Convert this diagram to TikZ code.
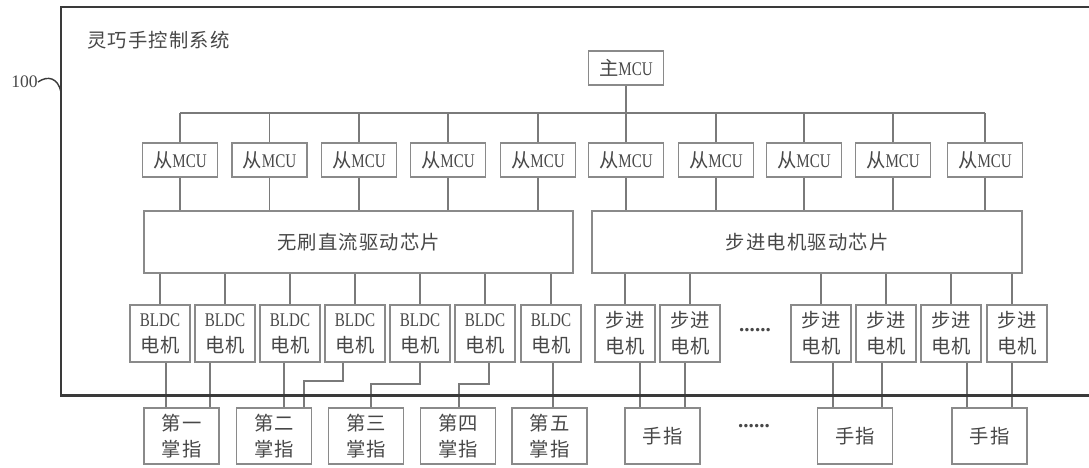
\documentclass[tikz,border=0pt]{standalone}
\usepackage{fontspec}
\setmainfont{Liberation Serif}
\newfontfamily\cjk[LetterSpace=6]{Noto Sans CJK SC}
\newfontfamily\nar[FakeStretch=0.78]{Liberation Serif}
\newcommand{\zhs}[1]{{\cjk #1}}
\definecolor{txt}{HTML}{474747}
\definecolor{boxc}{HTML}{8A8A8A}
\definecolor{linec}{HTML}{7A7A7A}
\definecolor{framec}{HTML}{3A3A3A}
\tikzset{
  box/.style={draw=boxc, line width=0.7pt, inner sep=0pt, align=center, text=txt,
    font=\fontsize{11}{14.7}\selectfont},
  mcu/.style={box, minimum width=1.5cm, minimum height=0.68cm},
  drv/.style={box, minimum height=1.24cm},
  mot/.style={box, minimum width=1.2cm, minimum height=1.14cm},
  fing/.style={box, minimum width=1.5cm, minimum height=1.12cm},
  wire/.style={draw=linec, line width=0.6pt},
  frame/.style={draw=framec, line width=1.7pt},
  plain/.style={text=txt, inner sep=0pt, font=\fontsize{11}{14.7}\selectfont},
  dotsnode/.style={text=txt, inner sep=0pt, font=\fontsize{12}{14}\selectfont\bfseries}
}
\begin{document}
\begin{tikzpicture}[x=0.02cm,y=-0.02cm]
\useasboundingbox (0,0) rectangle (1089,467);

% title and label
\node[plain, anchor=west] (title) at (87,40) {\zhs{灵巧手控制系统}};
\node[plain, anchor=east, font=\fontsize{10}{12}\selectfont] (lab) at (38,82) {100};
\coordinate (fr) at (61,92);

% main MCU
\node[mcu] (main) at (626,68) {\zhs{主}{\nar MCU}};

% slave MCUs
\foreach \x [count=\i] in {180,269.5,359,448,538,626,716,804,893,985}
  \node[mcu] (s\i) at (\x,160) {\zhs{从}{\nar MCU}};

% drivers
\node[drv, minimum width=8.58cm] (bl) at (358.5,242) {\zhs{无刷直流驱动芯片}};
\node[drv, minimum width=8.6cm] (st) at (807,242) {\zhs{步进电机驱动芯片}};

% motors
\foreach \x [count=\i] in {160,225,290,355,420,485,551}
  \node[mot] (m\i) at (\x,333.5) {{\nar BLDC}\\\zhs{电机}};
\foreach \x [count=\i] in {625,690,821,886,951,1017}
  \node[mot] (p\i) at (\x,333.5) {\zhs{步进}\\\zhs{电机}};
\node[dotsnode] (d1) at (755,330) {......};

% fingers
\node[fing] (f1) at (181.5,436) {\zhs{第一}\\\zhs{掌指}};
\node[fing] (f2) at (274,436) {\zhs{第二}\\\zhs{掌指}};
\node[fing] (f3) at (366,436) {\zhs{第三}\\\zhs{掌指}};
\node[fing] (f4) at (458,436) {\zhs{第四}\\\zhs{掌指}};
\node[fing] (f5) at (549.5,436) {\zhs{第五}\\\zhs{掌指}};
\node[fing] (f6) at (662.5,436) {\zhs{手指}};
\node[fing] (f7) at (855,436) {\zhs{手指}};
\node[fing] (f8) at (989.5,436) {\zhs{手指}};
\node[dotsnode] (d2) at (754,426) {......};

% bus
\coordinate (busL) at (180,113);
\coordinate (busR) at (985,113);
\draw[wire] (busL) -- (busR);
\draw[wire] (main.south) -- (main.south |- busL);
\foreach \i in {1,...,10} \draw[wire] (s\i.north) -- (s\i.north |- busL);
\foreach \i in {1,...,5} \draw[wire] (s\i.south) -- (s\i.south |- bl.north);
\foreach \i in {6,...,10} \draw[wire] (s\i.south) -- (s\i.south |- st.north);
\foreach \i in {1,...,7} \draw[wire] (m\i.north) -- (m\i.north |- bl.south);
\foreach \i in {1,...,5} \draw[wire] (p\i.north) -- (p\i.north |- st.south);
\path (p6.north) ++(-5,0) coordinate (p6t);
\draw[wire] (p6t) -- (p6t |- st.south);

% motors to fingers (straight)
\foreach \a/\o/\b in {m1/6/f1, m2/-15/f1, m3/-6/f2, m7/2/f5, p1/15/f6, p2/-5/f6, p3/12/f7, p4/-4/f7, p5/16/f8, p6/-5/f8} {
  \path (\a.south) ++(\o,0) coordinate (tmp);
  \draw[wire] (tmp) -- (tmp |- \b.north);
}
% bent ones
\coordinate (k4) at (304,381);
\path (m4.south) ++(-12,0) coordinate (t4);
\draw[wire] (t4) |- (k4) -- (k4 |- f2.north);
\coordinate (k5) at (371,384);
\draw[wire] (m5.south) |- (k5) -- (k5 |- f3.north);
\coordinate (k6) at (459,384);
\path (m6.south) ++(4,0) coordinate (t6);
\draw[wire] (t6) |- (k6) -- (k6 |- f4.north);

% outer frame
\draw[frame] (1089,7) -- (61,7) -- (61,395) -- (1089,395);
\draw[draw=framec, line width=0.8pt] (lab.east) .. controls (48,75) and (58,78) .. (fr);
\end{tikzpicture}
\end{document}
